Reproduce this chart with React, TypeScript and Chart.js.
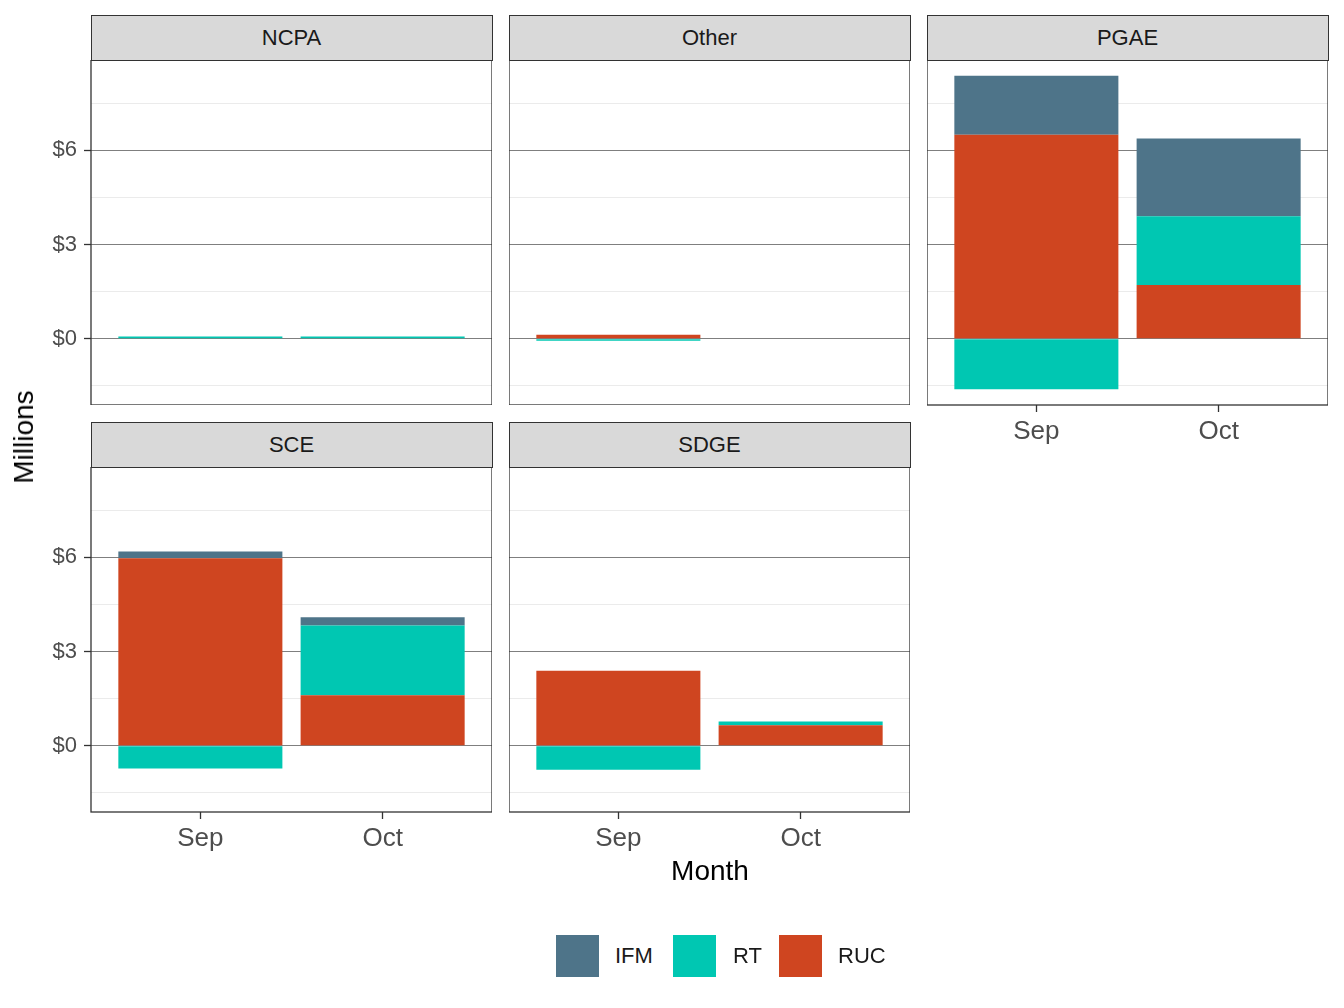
import React, { useEffect, useRef } from 'react'
import { Chart, registerables } from 'chart.js'
import type { Plugin } from 'chart.js'

Chart.register(...registerables)

const FONT = '"Liberation Sans", Arial, Helvetica, sans-serif'

// data (millions of dollars), one row per region, columns follow `months`
const regions = ['NCPA', 'Other', 'PGAE', 'SCE', 'SDGE']
const months = ['Sep', 'Oct']
const ifmValues = [[0, 0], [0, 0], [1.88, 2.48], [0.22, 0.26], [0, 0]]
const rtValues = [[0.07, 0.07], [-0.06, 0], [-1.61, 2.19], [-0.72, 2.22], [-0.76, 0.12]]
const rucValues = [[0, 0], [0.13, 0], [6.5, 1.71], [5.97, 1.61], [2.39, 0.65]]
const yTickValues = [-1.5, 0, 1.5, 3, 4.5, 6, 7.5]
const yLabelStep = 3

const seriesNames = ['IFM', 'RT', 'RUC']
const seriesColors: Record<string, string> = { IFM: '#4E7489', RT: '#00C7B2', RUC: '#CF4520' }

// ggplot-like shared y range: stacked extremes + 5% expansion
const stackTotals = regions.flatMap((_, r) =>
  months.map((_, m) => {
    const vals = [ifmValues[r][m], rtValues[r][m], rucValues[r][m]]
    return {
      pos: vals.filter((v) => v > 0).reduce((a, b) => a + b, 0),
      neg: vals.filter((v) => v < 0).reduce((a, b) => a + b, 0),
    }
  }),
)
const dataMax = Math.max(...stackTotals.map((t) => t.pos))
const dataMin = Math.min(...stackTotals.map((t) => t.neg))
const yPad = (dataMax - dataMin) * 0.05
const Y_MIN = dataMin - yPad
const Y_MAX = dataMax + yPad

const isMajor = (v: number) => Math.abs(v % yLabelStep) < 1e-9

// layout
const PLOT_LEFT = [91, 509, 927]
const PLOT_TOP = [60, 467]
const STRIP_TOP = [15, 422]
const PLOT_W = 401
const PLOT_H = 345
const Y_AXIS_W = 70
const X_AXIS_H = 50

const panelBorder: Plugin<'bar'> = {
  id: 'panelBorder',
  afterDraw(chart) {
    const { ctx, chartArea: a } = chart
    ctx.save()
    ctx.strokeStyle = '#333333'
    ctx.lineWidth = 1.3
    ctx.strokeRect(a.left, a.top, a.right - a.left, a.bottom - a.top)
    ctx.restore()
  },
}

type PanelProps = { index: number }

const Panel: React.FC<PanelProps> = ({ index }) => {
  const ref = useRef<HTMLCanvasElement | null>(null)
  const col = index % 3
  const row = Math.floor(index / 3)
  const showY = col === 0
  const showX = row === 1 || index + 3 >= regions.length
  const width = PLOT_W + (showY ? Y_AXIS_W : 0)
  const height = PLOT_H + (showX ? X_AXIS_H : 0)
  const left = PLOT_LEFT[col] - (showY ? Y_AXIS_W : 0)
  const top = PLOT_TOP[row]

  useEffect(() => {
    if (!ref.current) return
    const series: Record<string, number[][]> = { IFM: ifmValues, RT: rtValues, RUC: rucValues }
    // stacking order bottom->top: RUC, RT, IFM
    const order = ['RUC', 'RT', 'IFM']
    const chart = new Chart(ref.current, {
      type: 'bar',
      data: {
        datasets: order.map((name) => ({
          label: name,
          data: months.map((_, m) => ({ x: m + 1, y: series[name][index][m] })),
          backgroundColor: seriesColors[name],
          borderWidth: 0,
          categoryPercentage: 1,
          barPercentage: 0.9,
        })),
      },
      options: {
        responsive: false,
        animation: false,
        layout: { padding: 0 },
        plugins: { legend: { display: false }, tooltip: { enabled: false } },
        scales: {
          x: {
            type: 'linear',
            stacked: true,
            min: 0.4,
            max: 2.6,
            offset: false,
            afterBuildTicks: (scale) => {
              scale.ticks = months.map((_, m) => ({ value: m + 1 }))
            },
            afterFit: (scale) => {
              scale.height = showX ? X_AXIS_H : 0
              scale.paddingLeft = 0
              scale.paddingRight = 0
            },
            border: { display: false },
            grid: {
              offset: false,
              drawOnChartArea: false,
              drawTicks: showX,
              tickLength: 7,
              tickColor: '#333333',
              tickWidth: 1.3,
            },
            ticks: {
              display: showX,
              padding: 4,
              color: '#4d4d4d',
              font: { family: FONT, size: 26 },
              callback: (v) => months[Number(v) - 1] ?? '',
            },
          },
          y: {
            type: 'linear',
            stacked: true,
            min: Y_MIN,
            max: Y_MAX,
            afterBuildTicks: (scale) => {
              scale.ticks = yTickValues.map((value) => ({ value }))
            },
            afterFit: (scale) => {
              scale.width = showY ? Y_AXIS_W : 0
              scale.paddingTop = 0
              scale.paddingBottom = 0
            },
            border: { display: false },
            grid: {
              color: (c) => (c.tick && isMajor(c.tick.value) ? '#7f7f7f' : '#ebebeb'),
              lineWidth: 1,
              drawTicks: showY,
              tickLength: 7,
              tickWidth: 1.3,
              tickColor: (c) => (c.tick && isMajor(c.tick.value) ? '#333333' : 'rgba(0,0,0,0)'),
            },
            ticks: {
              display: showY,
              padding: 7,
              color: '#4d4d4d',
              font: { family: FONT, size: 22 },
              callback: (v) => (isMajor(Number(v)) ? `$${v}` : ''),
            },
          },
        },
      },
      plugins: [panelBorder],
    })
    return () => chart.destroy()
  }, [index, showX, showY])

  return (
    <>
      <div
        style={{
          position: 'absolute',
          left: PLOT_LEFT[col] - 0.5,
          top: STRIP_TOP[row],
          width: PLOT_W + 1,
          height: PLOT_TOP[row] - STRIP_TOP[row] + 1,
          boxSizing: 'border-box',
          background: '#d9d9d9',
          border: '1.3px solid #333333',
          display: 'flex',
          alignItems: 'center',
          justifyContent: 'center',
          fontSize: 22,
          color: '#1a1a1a',
        }}
      >
        {regions[index]}
      </div>
      <canvas
        ref={ref}
        width={width}
        height={height}
        style={{ position: 'absolute', left, top, width, height }}
      />
    </>
  )
}

const legendKeyLeft = [556, 673, 779]
const legendTextLeft = [615, 733, 838]

export default function App() {
  useEffect(() => {
    document.body.style.margin = '0'
  }, [])

  return (
    <div
      style={{
        position: 'relative',
        width: 1344,
        height: 1008,
        background: '#ffffff',
        fontFamily: FONT,
        overflow: 'hidden',
      }}
    >
      {regions.map((_, i) => (
        <Panel key={regions[i]} index={i} />
      ))}
      <div
        style={{
          position: 'absolute',
          left: 24,
          top: 437,
          transform: 'translate(-50%, -50%) rotate(-90deg)',
          fontSize: 28,
          color: '#000000',
          whiteSpace: 'nowrap',
        }}
      >
        Millions
      </div>
      <div
        style={{
          position: 'absolute',
          left: 710,
          top: 871,
          transform: 'translate(-50%, -50%)',
          fontSize: 28,
          color: '#000000',
          whiteSpace: 'nowrap',
        }}
      >
        Month
      </div>
      {seriesNames.map((name, i) => (
        <React.Fragment key={name}>
          <div
            style={{
              position: 'absolute',
              left: legendKeyLeft[i],
              top: 935,
              width: 43,
              height: 42,
              background: seriesColors[name],
            }}
          />
          <div
            style={{
              position: 'absolute',
              left: legendTextLeft[i],
              top: 956,
              transform: 'translateY(-50%)',
              fontSize: 22,
              color: '#1a1a1a',
            }}
          >
            {name}
          </div>
        </React.Fragment>
      ))}
    </div>
  )
}
